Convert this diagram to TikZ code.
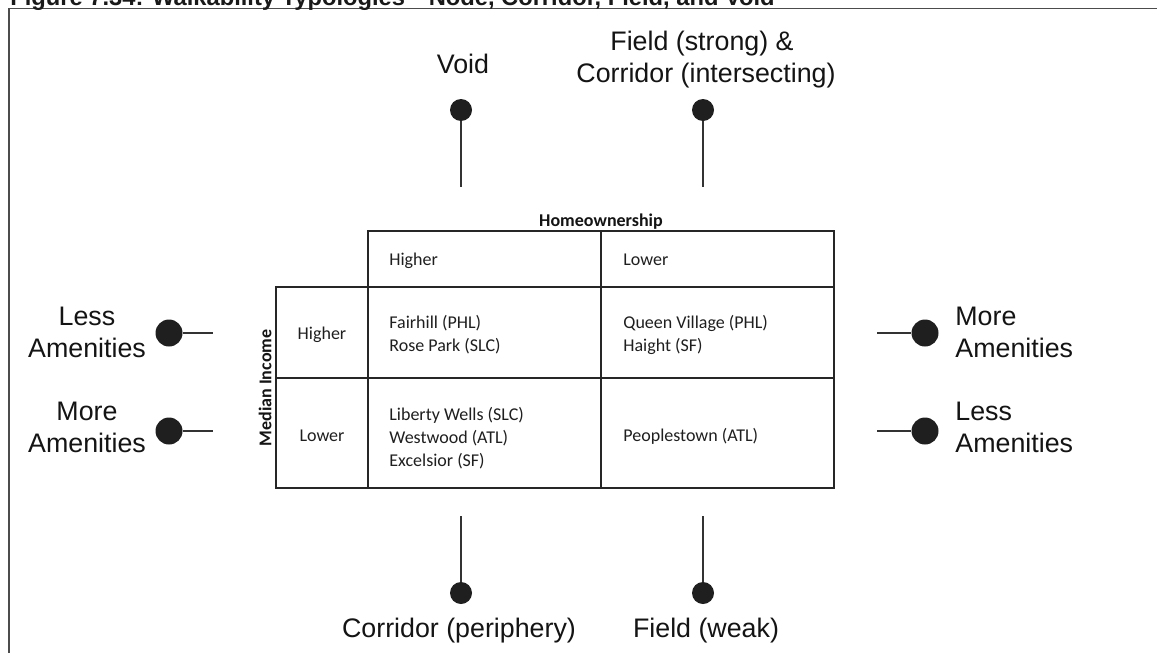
\documentclass[tikz,border=0pt]{standalone}
\usepackage{fontspec}
\setmainfont{Liberation Sans}
\newfontfamily\calfont{Carlito}
\begin{document}
\begin{tikzpicture}[x=0.5pt,y=-0.5pt,
  lbl/.style={font=\fontsize{13.4}{16}\selectfont, text=black!92, inner sep=0pt},
  tbl/.style={font=\calfont\fontsize{9}{11.5}\selectfont, text=black!88, inner sep=0pt},
  tblb/.style={font=\calfont\bfseries\fontsize{9}{11.5}\selectfont, text=black!92, inner sep=0pt},
  dotbig/.style={circle, fill=black!88, minimum size=13.5pt, inner sep=0pt},
  dotsm/.style={circle, fill=black!88, minimum size=11pt, inner sep=0pt},
  stem/.style={draw=black!80, line width=1.35pt},
  gridline/.style={draw=black!85, line width=0.7pt},
]
\useasboundingbox (0,0) rectangle (1157,653);
\fill[white] (0,0) rectangle (1157,653);
% frame
\draw[line width=0.8pt, draw=black!70] (9,670) -- (9,8.5) -- (1170,8.5);
% title (clipped at top)
\node[anchor=base west, inner sep=0pt, text=black!90, font=\bfseries\fontsize{11.85}{14}\selectfont] (title) at (10,5) {Figure 7.34: Walkability Typologies—Node, Corridor, Field, and Void};

% table grid
\draw[gridline] (368,231) rectangle (834,488);
\draw[gridline] (276,287) rectangle (368,488);
\draw[gridline] (601,231) -- (601,488);
\draw[gridline] (368,287) -- (834,287);
\draw[gridline] (276,378) -- (834,378);

% table texts
\node[tblb, anchor=base] (home) at (601,226) {Homeownership};
\node[tblb, anchor=center, rotate=90] (medinc) at (265,388) {Median Income};
\node[tbl, anchor=base west] (hH) at (389,265) {Higher};
\node[tbl, anchor=base west] (hL) at (623,265) {Lower};
\node[tbl, anchor=base] (rH) at (322,339) {Higher};
\node[tbl, anchor=base] (rL) at (322,441) {Lower};
\node[tbl, anchor=base west] (c11a) at (389,328) {Fairhill (PHL)};
\node[tbl, anchor=base west] (c11b) at (389,351) {Rose Park (SLC)};
\node[tbl, anchor=base west] (c12a) at (623,328) {Queen Village (PHL)};
\node[tbl, anchor=base west] (c12b) at (623,351) {Haight (SF)};
\node[tbl, anchor=base west] (c21a) at (389,420) {Liberty Wells (SLC)};
\node[tbl, anchor=base west] (c21b) at (389,443) {Westwood (ATL)};
\node[tbl, anchor=base west] (c21c) at (389,466) {Excelsior (SF)};
\node[tbl, anchor=base west] (c22a) at (623,441) {Peoplestown (ATL)};

% top pins
\node[dotsm] (dV) at (461,110) {};
\coordinate (sV) at (461,187);
\draw[stem] (dV) -- (sV);
\node[lbl, anchor=base] (tV) at (463,73) {Void};
\node[dotsm] (dF) at (703,110) {};
\coordinate (sF) at (703,187);
\draw[stem] (dF) -- (sF);
\node[lbl, anchor=base] (tF1) at (702,50) {Field (strong) \&};
\node[lbl, anchor=base] (tF2) at (706,82) {Corridor (intersecting)};

% bottom pins
\node[dotsm] (dC) at (461,593) {};
\coordinate (sC) at (461,516);
\draw[stem] (sC) -- (dC);
\node[lbl, anchor=base] (tC) at (459,637) {Corridor (periphery)};
\node[dotsm] (dW) at (703,593) {};
\coordinate (sW) at (703,516);
\draw[stem] (sW) -- (dW);
\node[lbl, anchor=base] (tW) at (706,637) {Field (weak)};

% left pins
\node[dotbig] (dL1) at (169,333) {};
\coordinate (sL1) at (213,333);
\draw[stem] (dL1) -- (sL1);
\node[lbl, anchor=base] (tL1a) at (87,325) {Less};
\node[lbl, anchor=base] (tL1b) at (87,357) {Amenities};
\node[dotbig] (dL2) at (169,431) {};
\coordinate (sL2) at (213,431);
\draw[stem] (dL2) -- (sL2);
\node[lbl, anchor=base] (tL2a) at (87,420) {More};
\node[lbl, anchor=base] (tL2b) at (87,452) {Amenities};

% right pins
\node[dotbig] (dR1) at (925,333) {};
\coordinate (sR1) at (877,333);
\draw[stem] (sR1) -- (dR1);
\node[lbl, anchor=base west] (tR1a) at (955,325) {More};
\node[lbl, anchor=base west] (tR1b) at (955,357) {Amenities};
\node[dotbig] (dR2) at (925,431) {};
\coordinate (sR2) at (877,431);
\draw[stem] (sR2) -- (dR2);
\node[lbl, anchor=base west] (tR2a) at (955,420) {Less};
\node[lbl, anchor=base west] (tR2b) at (955,452) {Amenities};
\end{tikzpicture}
\end{document}
